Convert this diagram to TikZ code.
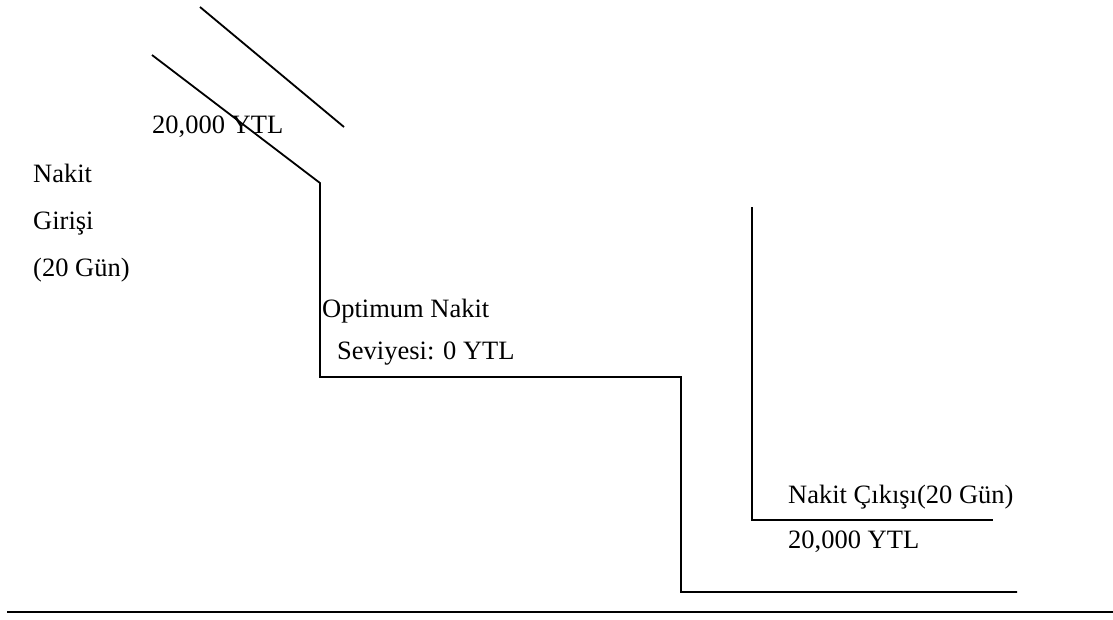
\documentclass[tikz,border=0pt]{standalone}
\usepackage{fontspec}
\setmainfont{Liberation Serif}
\begin{document}
\begin{tikzpicture}[x=1pt,y=-1pt,
  lbl/.style={anchor=base west,inner sep=0pt,font=\fontsize{26.5}{30}\selectfont},
  ln/.style={line width=1.8pt,line join=miter}]
\useasboundingbox (0,0) rectangle (1113,619);
% coordinates
\coordinate (a1) at (200,7);
\coordinate (a2) at (344,127);
\coordinate (b1) at (152,55);
\coordinate (b2) at (320,183);
\coordinate (b3) at (320,377);
\coordinate (b4) at (681,377);
\coordinate (b5) at (681,592);
\coordinate (b6) at (1017,592);
\coordinate (c1) at (752,207);
\coordinate (c2) at (752,520);
\coordinate (c3) at (993,520);
\coordinate (d1) at (7,612);
\coordinate (d2) at (1113,612);
% lines
\draw[ln] (a1) -- (a2);
\draw[ln] (b1) -- (b2) -- (b3) -- (b4) -- (b5) -- (b6);
\draw[ln] (c1) -- (c2) -- (c3);
\draw[ln] (d1) -- (d2);
% labels
\node[lbl] (t1) at (152,133) {20,000 YTL};
\node[lbl] (t2) at (33,182) {Nakit};
\node[lbl] (t3) at (33,229) {Girişi};
\node[lbl] (t4) at (33,276) {(20 Gün)};
\node[lbl] (t5) at (322,317) {Optimum Nakit};
\node[lbl] (t6) at (337,359) {Seviyesi: 0 YTL};
\node[lbl] (t7) at (788,503) {Nakit Çıkışı(20 Gün)};
\node[lbl] (t8) at (788,548) {20,000 YTL};
\end{tikzpicture}
\end{document}
